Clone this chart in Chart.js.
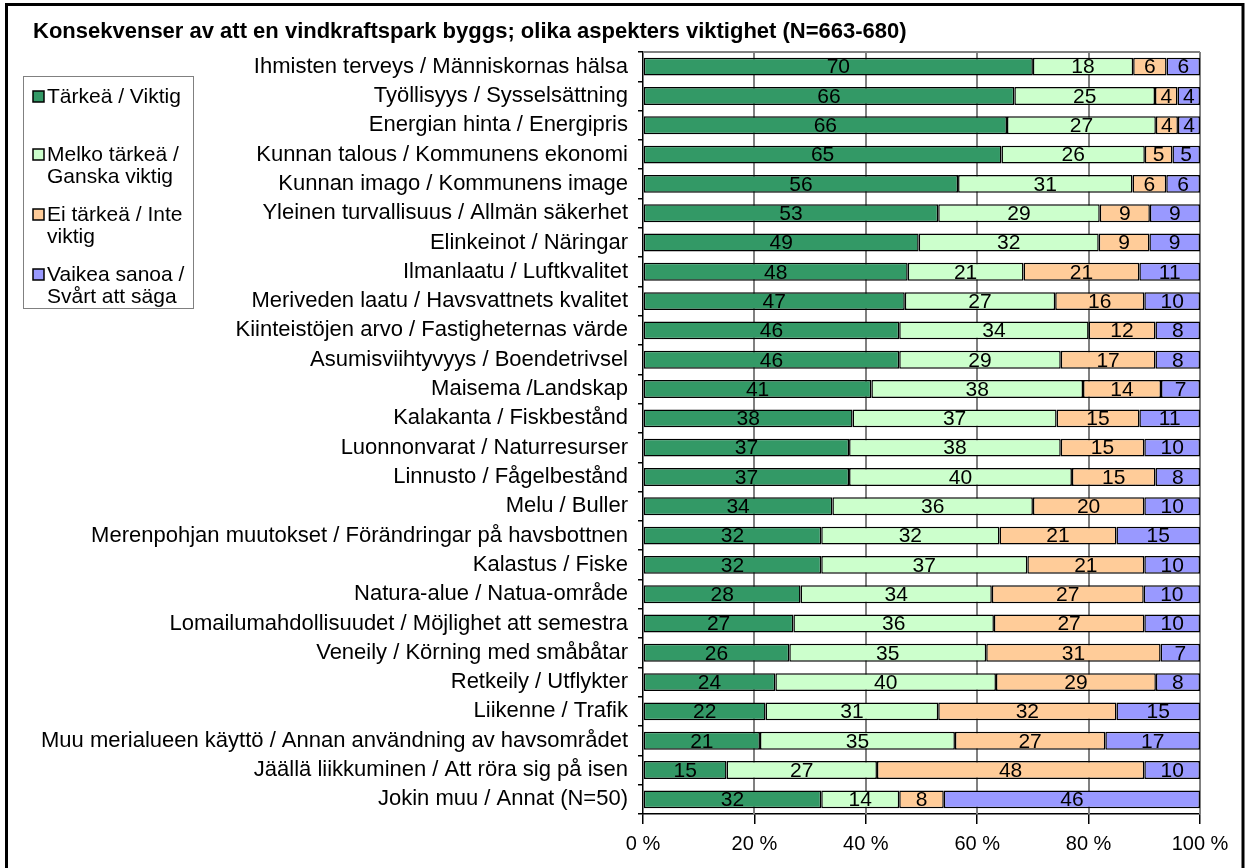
<!DOCTYPE html>
<html>
<head>
<meta charset="utf-8">
<script src="https://cdn.jsdelivr.net/npm/chart.js@4"></script>
<style>
  html, body { margin: 0; padding: 0; background: #fff; }
</style>
</head>
<body>
<canvas id="chart" width="1245" height="868"></canvas>
<script>
let chartTitle = "Konsekvenser av att en vindkraftspark byggs; olika aspekters viktighet (N=663-680)";

let categories = [
    "Ihmisten terveys / Människornas hälsa",
    "Työllisyys / Sysselsättning",
    "Energian hinta / Energipris",
    "Kunnan talous / Kommunens ekonomi",
    "Kunnan imago / Kommunens image",
    "Yleinen turvallisuus / Allmän säkerhet",
    "Elinkeinot / Näringar",
    "Ilmanlaatu / Luftkvalitet",
    "Meriveden laatu / Havsvattnets kvalitet",
    "Kiinteistöjen arvo / Fastigheternas värde",
    "Asumisviihtyvyys / Boendetrivsel",
    "Maisema /Landskap",
    "Kalakanta / Fiskbestånd",
    "Luonnonvarat / Naturresurser",
    "Linnusto / Fågelbestånd",
    "Melu / Buller",
    "Merenpohjan muutokset / Förändringar på havsbottnen",
    "Kalastus / Fiske",
    "Natura-alue / Natua-område",
    "Lomailumahdollisuudet / Möjlighet att semestra",
    "Veneily / Körning med småbåtar",
    "Retkeily / Utflykter",
    "Liikenne / Trafik",
    "Muu merialueen käyttö / Annan användning av havsområdet",
    "Jäällä liikkuminen / Att röra sig på isen",
    "Jokin muu / Annat (N=50)"
];

let important    = [70, 66, 66, 65, 56, 53, 49, 48, 47, 46, 46, 41, 38, 37, 37, 34, 32, 32, 28, 27, 26, 24, 22, 21, 15, 32];
let fairly       = [18, 25, 27, 26, 31, 29, 32, 21, 27, 34, 29, 38, 37, 38, 40, 36, 32, 37, 34, 36, 35, 40, 31, 35, 27, 14];
let notImportant = [ 6,  4,  4,  5,  6,  9,  9, 21, 16, 12, 17, 14, 15, 15, 15, 20, 21, 21, 27, 27, 31, 29, 32, 27, 48,  8];
let hardToSay    = [ 6,  4,  4,  5,  6,  9,  9, 11, 10,  8,  8,  7, 11, 10,  8, 10, 15, 10, 10, 10,  7,  8, 15, 17, 10, 46];

let seriesNames = [
    ["Tärkeä / Viktig"],
    ["Melko tärkeä /", "Ganska viktig"],
    ["Ei tärkeä / Inte", "viktig"],
    ["Vaikea sanoa /", "Svårt att säga"]
];
let seriesColors = ["#339966", "#CCFFCC", "#FFCC99", "#9999FF"];
let xTicks = [0, 20, 40, 60, 80, 100];

const FONT = "'Liberation Sans', Arial, sans-serif";
const GRID_COLOR = "#808080";

// 100 % stacked: each row is scaled to its own total, labels keep the read values
let allSeries = [important, fairly, notImportant, hardToSay];
let rowTotals = categories.map((c, i) => allSeries.reduce((s, arr) => s + arr[i], 0));

let datasets = allSeries.map((arr, k) => ({
    label: seriesNames[k].join(" "),
    data: arr.map((v, i) => v * 100 / rowTotals[i]),
    rawValues: arr,
    backgroundColor: seriesColors[k],
    borderColor: "#000",
    borderWidth: 1.5,
    borderSkipped: false,
    barPercentage: 0.61,
    categoryPercentage: 1.0
}));

let overlay = {
    id: "overlay",
    beforeDatasetsDraw(chart) {
        // vertical gridlines + gray top edge of the plot
        let ctx = chart.ctx;
        let area = chart.chartArea;
        let xs = chart.scales.x;
        ctx.save();
        ctx.strokeStyle = GRID_COLOR;
        ctx.lineWidth = 2;
        ctx.beginPath();
        xTicks.slice(1).forEach(v => {
            let px = Math.round(xs.getPixelForValue(v));
            ctx.moveTo(px, area.top);
            ctx.lineTo(px, area.bottom);
        });
        ctx.moveTo(area.left, area.top);
        ctx.lineTo(area.right, area.top);
        ctx.stroke();
        ctx.restore();
    },
    afterDatasetsDraw(chart) {
        let ctx = chart.ctx;
        // value labels inside the segments
        ctx.save();
        ctx.font = "21px " + FONT;
        ctx.fillStyle = "#000";
        ctx.textAlign = "center";
        ctx.textBaseline = "middle";
        chart.data.datasets.forEach((ds, di) => {
            chart.getDatasetMeta(di).data.forEach((bar, i) => {
                let cx = (bar.x + bar.base) / 2;
                ctx.fillText(String(ds.rawValues[i]), cx, bar.y + 1);
            });
        });
        ctx.restore();
    },
    afterDraw(chart) {
        let ctx = chart.ctx;
        ctx.save();

        // outer frame
        ctx.strokeStyle = "#000";
        ctx.lineWidth = 3;
        ctx.beginPath();
        ctx.moveTo(6.5, 868);
        ctx.lineTo(6.5, 4.5);
        ctx.lineTo(1243, 4.5);
        ctx.lineTo(1243, 868);
        ctx.stroke();

        // title
        ctx.fillStyle = "#000";
        ctx.font = "bold 22px " + FONT;
        ctx.textAlign = "left";
        ctx.textBaseline = "middle";
        ctx.fillText(chartTitle, 33, 32);

        // legend box
        ctx.strokeStyle = "#808080";
        ctx.lineWidth = 1;
        ctx.strokeRect(23.5, 76.5, 170, 232);
        ctx.font = "21px " + FONT;
        let itemY = [97, 155, 215, 275];
        seriesNames.forEach((lines, k) => {
            let y = itemY[k];
            ctx.fillStyle = seriesColors[k];
            ctx.fillRect(33, y - 6, 11, 11);
            ctx.strokeStyle = "#000";
            ctx.lineWidth = 1.5;
            ctx.strokeRect(33, y - 6, 11, 11);
            ctx.fillStyle = "#000";
            lines.forEach((t, j) => ctx.fillText(t, 47, y + j * 22));
        });
        ctx.restore();
    }
};

new Chart(document.getElementById("chart"), {
    type: "bar",
    data: { labels: categories, datasets: datasets },
    options: {
        indexAxis: "y",
        responsive: false,
        animation: false,
        layout: { padding: { top: 52, right: 45, bottom: 0, left: 0 } },
        plugins: {
            legend: { display: false },
            title: { display: false },
            tooltip: { enabled: false }
        },
        scales: {
            x: {
                stacked: true,
                min: 0,
                max: 100,
                afterBuildTicks(scale) {
                    scale.ticks = xTicks.map(v => ({ value: v }));
                },
                afterFit(scale) { scale.height = 54; },
                ticks: {
                    color: "#000",
                    font: { family: FONT, size: 20 },
                    padding: 8,
                    maxRotation: 0,
                    callback: v => v + " %"
                },
                grid: {
                    drawOnChartArea: false,
                    tickColor: "#000",
                    tickLength: 10,
                    lineWidth: 1.5
                },
                border: { color: "#000", width: 1.5 }
            },
            y: {
                stacked: true,
                afterFit(scale) { scale.width = 643; },
                ticks: {
                    color: "#000",
                    font: { family: FONT, size: 22 },
                    padding: 10,
                    autoSkip: false
                },
                grid: {
                    drawOnChartArea: false,
                    tickColor: "#000",
                    tickLength: 5,
                    lineWidth: 1.5
                },
                border: { color: "#000", width: 1.5 }
            }
        }
    },
    plugins: [overlay]
});
</script>
</body>
</html>
